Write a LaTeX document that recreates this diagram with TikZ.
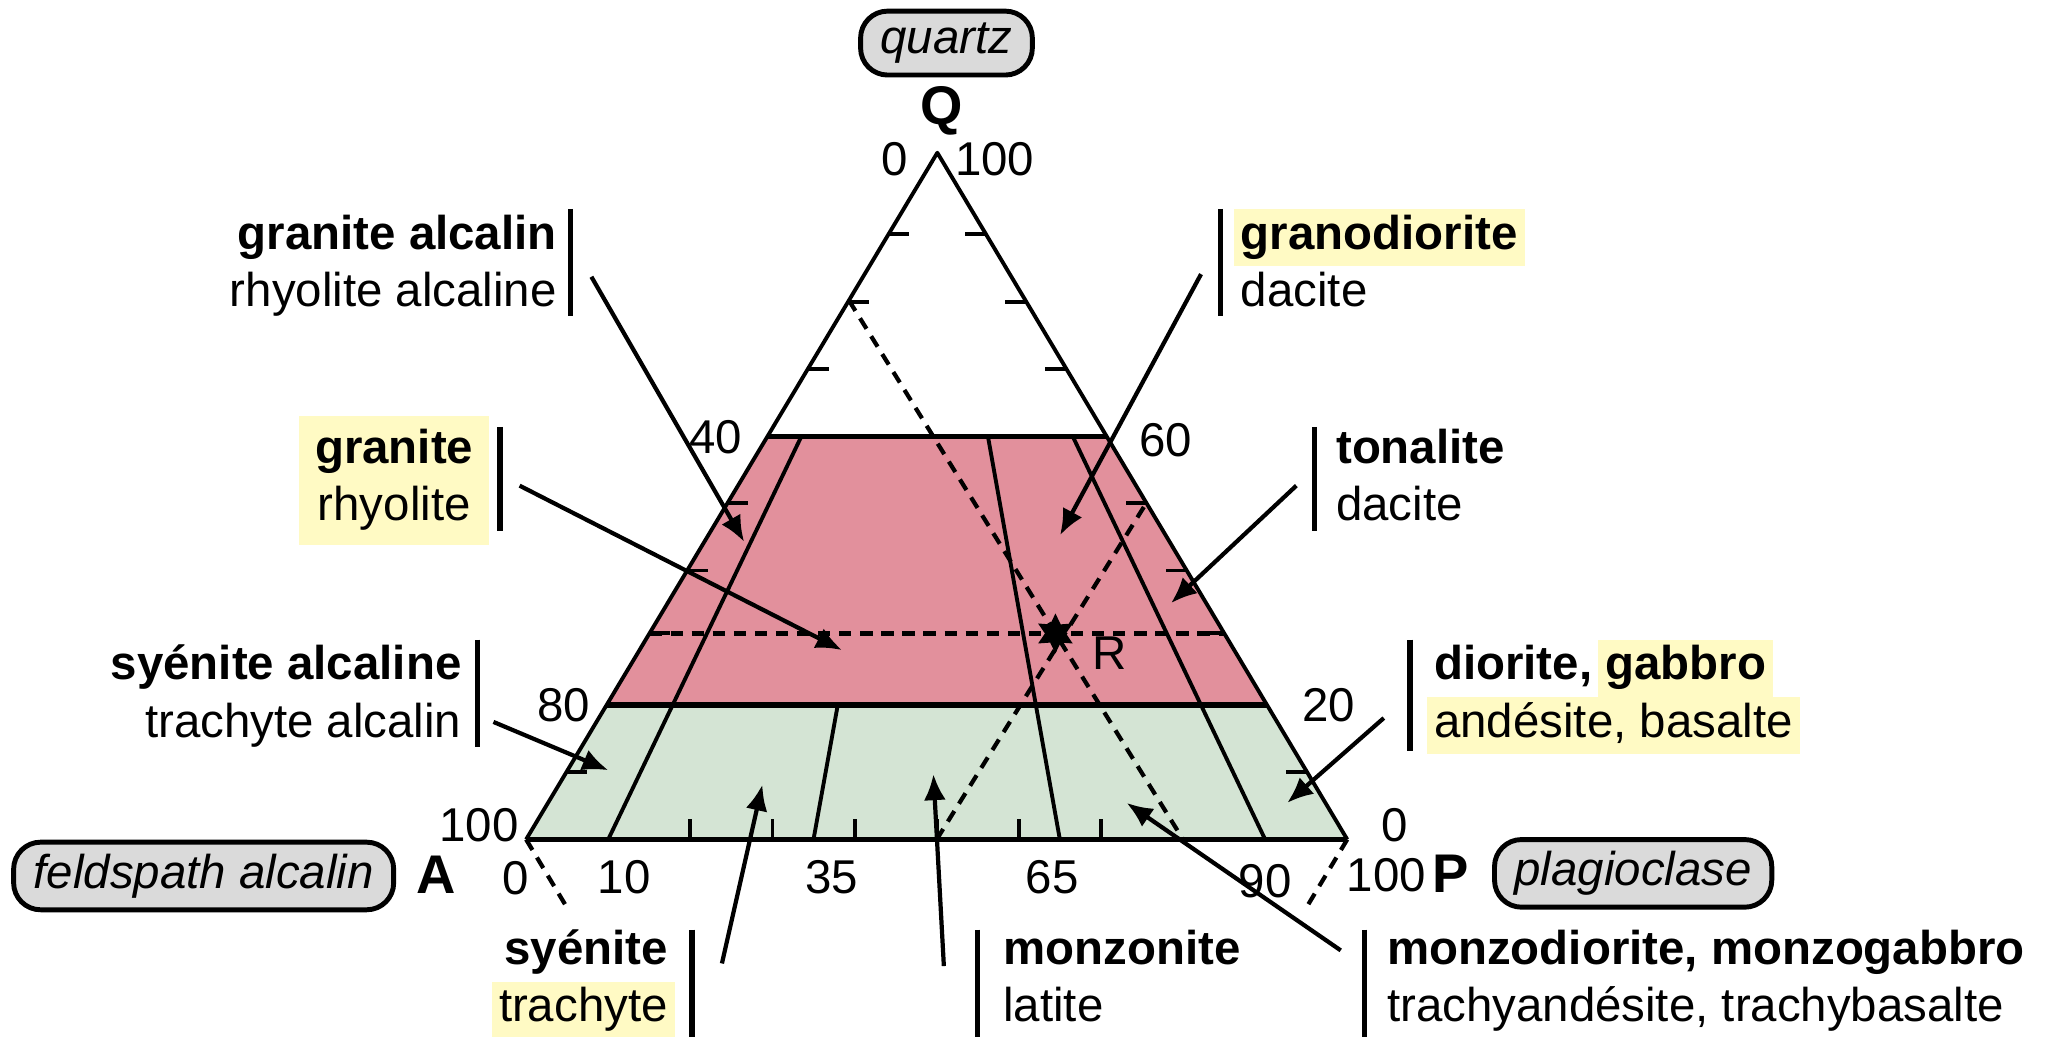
\documentclass[tikz,border=0pt]{standalone}
\usepackage{fontspec}
\setmainfont{Liberation Sans}
\usetikzlibrary{arrows.meta,shapes.geometric,calc}
\definecolor{pinkzone}{RGB}{226,144,156}
\definecolor{greenzone}{RGB}{212,228,212}
\definecolor{hlyellow}{RGB}{255,250,196}
\definecolor{capsgrey}{RGB}{218,218,218}
\setlength{\fboxsep}{0pt}
\newcommand{\hl}[1]{\hspace{-2pt}\colorbox{hlyellow}{\strut\hspace{2pt}#1\hspace{2pt}}\hspace{-2pt}}
\newcommand{\rock}[2]{\textbf{#1}\strut\\#2\strut}

\begin{document}
\begin{tikzpicture}[x=0.013055cm, y=-0.013055cm, line join=round,
    every node/.style={font=\fontsize{13.5}{16.3}\selectfont},
    mineral/.style={draw, line width=1.4pt, fill=capsgrey, rounded corners=0.27cm,
      minimum height=0.62cm, inner xsep=0.2cm, font=\fontsize{13.5}{16.3}\selectfont\itshape},
    apex/.style={font=\fontsize{15.5}{18}\selectfont\bfseries},
    lbl/.style={inner sep=0pt},
    bar/.style={line width=1.5pt},
    pointer/.style={line width=1.2pt, -{Latex[length=2.6mm,width=2.2mm]}},
    guide/.style={line width=1.2pt, dash pattern=on 3.5pt off 2.5pt},
    limit/.style={line width=1.6pt}]
  \useasboundingbox (0,0) rectangle (1568,794);

  \coordinate (Q) at (718,117);
  \coordinate (A) at (403,643);
  \coordinate (P) at (1032,643);
  \coordinate (A60) at ($(A)!0.587!(Q)$);
  \coordinate (P60) at ($(P)!0.587!(Q)$);
  \coordinate (A20) at ($(A)!0.196!(Q)$);
  \coordinate (P20) at ($(P)!0.196!(Q)$);
  \coordinate (B10) at ($(A)!0.1!(P)$);
  \coordinate (B35) at ($(A)!0.35!(P)$);
  \coordinate (B65) at ($(A)!0.65!(P)$);
  \coordinate (B90) at ($(A)!0.9!(P)$);
  \coordinate (L30) at ($(A)!0.3!(Q)$);
  \coordinate (R30) at ($(P)!0.3!(Q)$);
  \coordinate (L80) at ($(A)!0.785!(Q)$);
  \coordinate (B80) at ($(A)!0.8!(P)$);
  \coordinate (B50) at ($(A)!0.5!(P)$);
  \coordinate (R50) at ($(P)!0.49!(Q)$);
  \coordinate (R) at (intersection of L30--R30 and L80--B80);

  \fill[pinkzone] (A60) -- (P60) -- (P20) -- (A20) -- cycle;
  \fill[greenzone] (A20) -- (P20) -- (P) -- (A) -- cycle;

  \draw[guide] (L30) -- (R30);
  \draw[guide] (L80) -- (B80);
  \draw[guide] (B50) -- (R50);
  \draw[guide] (A) -- ++(33,55);
  \draw[guide] (P) -- ++(-33,55);

  \draw[line width=1.1pt] (B10) -- ($(B10)!0.587!(Q)$);
  \draw[line width=1.1pt] (B35) -- ($(B35)!0.196!(Q)$);
  \draw[line width=1.1pt] (B65) -- ($(B65)!0.587!(Q)$);
  \draw[line width=1.1pt] (B90) -- ($(B90)!0.587!(Q)$);

  \draw[line width=1.1pt] (A) -- (Q) -- (P);
  \draw[limit] (A) -- (P);
  \draw[limit] (A60) -- (P60);
  \draw[limit] (A20) -- (P20);

  \foreach \q in {0.1,0.4,0.5,0.7,0.8,0.9} {
    \draw[line width=1.1pt] ($(A)!{0.979*\q}!(Q)$) -- ++(16,0);
    \draw[line width=1.1pt] ($(P)!{0.979*\q}!(Q)$) -- ++(-16,0);
  }
  \draw[line width=1.1pt] (L30) -- ++(16,0);
  \draw[line width=1.1pt] (R30) -- ++(-16,0);
  \foreach \r in {0.2,0.3,...,0.8}
    \draw[line width=1.1pt] ($(A)!\r!(P)$) -- ++(0,-16);

  \node[star, star points=6, star point ratio=1.9, fill=black, inner sep=0pt,
    minimum size=0.4cm] (Rstar) at (R) {};
  \node (Rlbl) at (850,500) {R};

  \node[mineral] (qz) at (725,33) {quartz};
  \node[mineral] (fa) at (156,671) {feldspath alcalin};
  \node[mineral] (pl) at (1251,669) {plagioclase};
  \node[apex] (Qlbl) at (721,85) {Q};
  \node[apex] (Albl) at (334,670) {A};
  \node[apex] (Plbl) at (1111,669) {P};

  \node (n0t) at (685,122) {0};
  \node (n100t) at (762,122) {100};
  \node (n40) at (548,335) {40};
  \node (n60) at (893,337) {60};
  \node (n80) at (432,540) {80};
  \node (n20) at (1018,540) {20};
  \node (n100l) at (367,632) {100};
  \node (n0r) at (1068,632) {0};
  \node (b0) at (395,673) {0};
  \node (b10) at (478,672) {10};
  \node (b35) at (637,672) {35};
  \node (b65) at (806,672) {65};
  \node (b90) at (969,675) {90};
  \node (b100) at (1062,670) {100};

  \node[lbl, anchor=east, align=right] (galk) at (427,204) {\rock{granite alcalin}{rhyolite alcaline}};
  \node[lbl, fill=hlyellow, inner xsep=4.5pt, inner ysep=2pt, align=center] (gran) at (302,368) {\rock{granite}{rhyolite}};
  \node[lbl, anchor=east, align=right] (syalk) at (354,534) {\rock{syénite alcaline}{trachyte alcalin}};
  \node[lbl, anchor=west, align=left] (grd) at (950,204) {\rock{\hl{granodiorite}}{dacite}};
  \node[lbl, anchor=west, align=left] (ton) at (1023,368) {\rock{tonalite}{dacite}};
  \node[lbl, anchor=west, align=left] (dio) at (1098,534) {\rock{diorite, \hl{gabbro}}{\hl{andésite, basalte}}};
  \node[lbl, anchor=east, align=right] (sye) at (512,752) {\rock{syénite}{\hl{trachyte}}};
  \node[lbl, anchor=west, align=left] (mzn) at (768,752) {\rock{monzonite}{latite}};
  \node[lbl, anchor=west, align=left] (mzd) at (1062,752) {\rock{monzodiorite, monzogabbro}{trachyandésite, trachybasalte}};

  \draw[bar] (437,160) -- (437,242);
  \draw[bar] (383,327) -- (383,407);
  \draw[bar] (366,490) -- (366,572);
  \draw[bar] (935,160) -- (935,242);
  \draw[bar] (1007,327) -- (1007,407);
  \draw[bar] (1080,490) -- (1080,575);
  \draw[bar] (530,712) -- (530,794);
  \draw[bar] (749,712) -- (749,794);
  \draw[bar] (1045,712) -- (1045,794);

  \coordinate (galk-t) at (453,212);  \coordinate (galk-h) at (570,415);
  \coordinate (gran-t) at (398,372);  \coordinate (gran-h) at (645,498);
  \coordinate (syalk-t) at (378,553); \coordinate (syalk-h) at (466,590);
  \coordinate (grd-t) at (920,210);   \coordinate (grd-h) at (812,410);
  \coordinate (ton-t) at (993,372);   \coordinate (ton-h) at (897,462);
  \coordinate (dio-t) at (1060,550);  \coordinate (dio-h) at (986,615);
  \coordinate (sye-t) at (553,738);   \coordinate (sye-h) at (584,601);
  \coordinate (mzn-t) at (723,740);   \coordinate (mzn-h) at (715,593);
  \coordinate (mzd-t) at (1027,728);  \coordinate (mzd-h) at (863,615);
  \foreach \n in {galk,gran,syalk,grd,ton,dio,sye,mzn,mzd}
    \draw[pointer] (\n-t) -- (\n-h);
\end{tikzpicture}
\end{document}
